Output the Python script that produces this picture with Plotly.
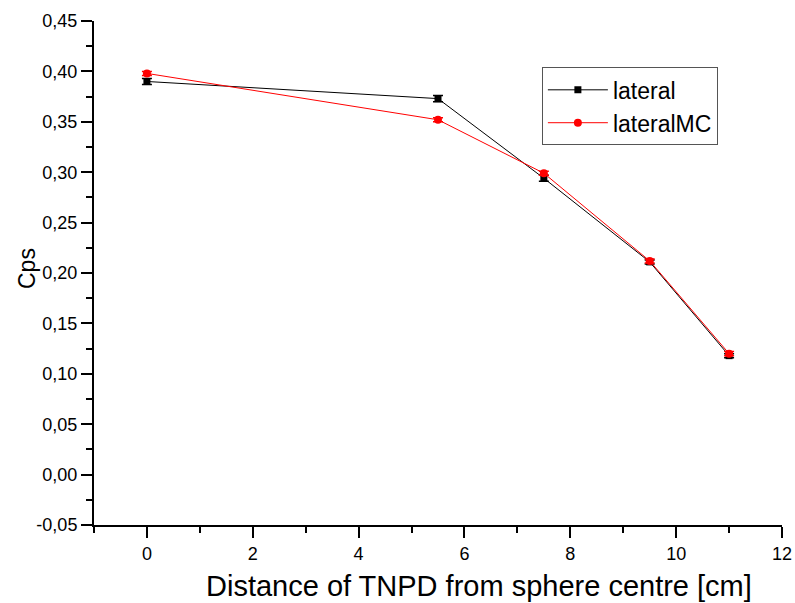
import plotly.graph_objects as go

# Distance of the detector from the sphere centre [cm]
distance = [0, 5.5, 7.5, 9.5, 11]

# Measured count rates and Monte Carlo count rates
lateral = [0.390, 0.373, 0.294, 0.211, 0.118]
lateral_err = [0.003, 0.003, 0.003, 0.002, 0.002]
lateral_mc = [0.398, 0.352, 0.299, 0.212, 0.120]
lateral_mc_err = [0.002, 0.002, 0.002, 0.002, 0.002]

# Axis tick values and their printed labels (comma decimal separator)
x_ticks = [0, 2, 4, 6, 8, 10, 12]
y_ticks = [-0.05, 0.00, 0.05, 0.10, 0.15, 0.20, 0.25, 0.30, 0.35, 0.40, 0.45]
y_tick_labels = ["-0,05", "0,00", "0,05", "0,10", "0,15", "0,20",
                 "0,25", "0,30", "0,35", "0,40", "0,45"]

font_family = "Liberation Sans, Arial, sans-serif"

fig = go.Figure()
fig.add_trace(go.Scatter(
    x=distance, y=lateral, name="lateral", mode="lines+markers",
    line=dict(color="black", width=1),
    marker=dict(symbol="square", size=7, color="black"),
    error_y=dict(type="data", array=lateral_err, color="black", thickness=1.5, width=5),
))
fig.add_trace(go.Scatter(
    x=distance, y=lateral_mc, name="lateralMC", mode="lines+markers",
    line=dict(color="red", width=1),
    marker=dict(symbol="circle", size=8, color="red"),
    error_y=dict(type="data", array=lateral_mc_err, color="red", thickness=1.5, width=5),
))

axis_common = dict(
    showgrid=False, zeroline=False, showline=True, linecolor="black", linewidth=2,
    ticks="outside", tickcolor="black", tickwidth=2, ticklen=11, automargin=False,
    tickfont=dict(family=font_family, size=18, color="black"),
)

fig.update_xaxes(
    range=[-1, 12], tickmode="array", tickvals=x_ticks,
    minor=dict(ticks="outside", dtick=1, tick0=-1, ticklen=6, tickwidth=2, tickcolor="black"),
    **axis_common,
)
fig.update_yaxes(
    range=[-0.05, 0.45], tickmode="array", tickvals=y_ticks, ticktext=y_tick_labels,
    minor=dict(ticks="outside", dtick=0.025, tick0=-0.05, ticklen=6, tickwidth=2, tickcolor="black"),
    **axis_common,
)

fig.add_annotation(
    text="Distance of TNPD from sphere centre [cm]", xref="paper", yref="paper",
    x=0.5, xshift=41, y=0, yshift=-61, xanchor="center", yanchor="middle", showarrow=False,
    font=dict(family=font_family, size=29, color="black"),
)
fig.add_annotation(
    text="Cps", xref="paper", yref="paper", textangle=-90,
    x=0, xshift=-67, y=0.5, yshift=4, xanchor="center", yanchor="middle", showarrow=False,
    font=dict(family=font_family, size=23, color="black"),
)

fig.update_layout(
    width=795, height=603,
    margin=dict(l=94, r=13, t=21, b=78),
    paper_bgcolor="white", plot_bgcolor="white",
    showlegend=True,
    legend=dict(
        x=0.651, y=0.908, xanchor="left", yanchor="top",
        bordercolor="#555555", borderwidth=1, bgcolor="white",
        font=dict(family=font_family, size=23, color="black"),
        tracegroupgap=0, itemwidth=60,
    ),
)

fig.write_html("out.html")
